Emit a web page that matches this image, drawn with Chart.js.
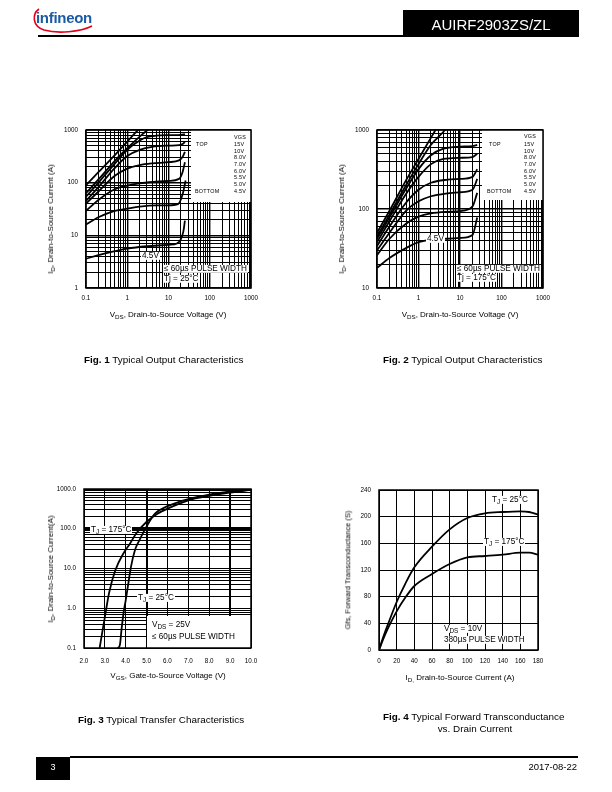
<!DOCTYPE html>
<html><head><meta charset="utf-8">
<script src="https://cdn.jsdelivr.net/npm/chart.js@4/dist/chart.umd.min.js"></script>
<style>
html,body{margin:0;padding:0;background:#fff}
body{width:612px;height:792px;position:relative;overflow:hidden;font-family:"Liberation Sans",Arial,Helvetica,sans-serif;color:#000;-webkit-font-smoothing:antialiased}
.a{position:absolute;white-space:nowrap;line-height:1;will-change:transform}
.lc{transform:translateY(-50%)}
.cc{transform:translate(-50%,-50%)}
.rc{transform:translate(-100%,-50%)}
.rot{transform:translate(-50%,-50%) rotate(-90deg)}
.wb{background:#fff;padding:0 1px}
.s{font-size:78%;position:relative;top:.3em}
.cap{font-size:9.9px}
.ttl{font-size:8px}
.ann{font-size:8.2px}
.lg{font-size:5.4px;letter-spacing:.25px}
canvas{position:absolute}
</style></head><body>

<!-- header -->
<svg class="a" style="left:30px;top:6px" width="64" height="28" viewBox="0 0 64 28">
  <path d="M9 3 C2 8, 2 20, 14 24 C28 28, 50 26, 62 20" fill="none" stroke="#e2001a" stroke-width="1.6"/>
</svg>
<div class="a" style="left:36px;top:10px;font-size:15px;font-weight:bold;color:#1b5aa5;letter-spacing:-.3px">infineon</div>
<div class="a" style="left:38px;top:35px;width:365px;height:1.5px;background:#000"></div>
<div class="a" style="left:403px;top:10px;width:176px;height:27px;background:#000"></div>
<div class="a cc" style="left:491px;top:23.5px;font-size:15px;color:#fff">AUIRF2903ZS/ZL</div>

<!-- footer -->
<div class="a" style="left:36px;top:757px;width:34px;height:23px;background:#000"></div>
<div class="a cc" style="left:53px;top:767px;font-size:9px;color:#fff">3</div>
<div class="a" style="left:70px;top:756px;width:508px;height:1.5px;background:#000"></div>
<div class="a rc" style="left:577px;top:767px;font-size:9.5px">2017-08-22</div>

<!-- canvases -->
<canvas id="c1" width="205" height="184" style="left:56px;top:122px"></canvas>
<canvas id="c2" width="206" height="184" style="left:347px;top:122px"></canvas>
<canvas id="c3" width="213" height="186" style="left:48px;top:481px"></canvas>
<canvas id="c4" width="205" height="188" style="left:343px;top:482px"></canvas>

<!-- Fig 1 texts -->
<div class="a ttl cc" style="left:168px;top:315px">V<span class="s">DS</span>, Drain-to-Source Voltage (V)</div>
<div class="a ttl rot" style="left:51px;top:219px">I<span class="s">D</span>, Drain-to-Source Current (A)</div>
<div class="a lg lc" style="left:234px;top:138px">VGS</div>
<div class="a lg lc" style="left:196px;top:145px">TOP</div>
<div class="a lg lc" style="left:195px;top:191.7px">BOTTOM</div>
<div id="lg1"></div>
<div class="a ann lc wb" style="left:141px;top:256px">4.5V</div>
<div class="a ann lc wb" style="left:163px;top:269px">≤ 60µs PULSE WIDTH</div>
<div class="a ann lc wb" style="left:163px;top:279px">Tj = 25°C</div>
<div class="a cap lc" style="left:84px;top:360px"><b>Fig. 1</b> Typical Output Characteristics</div>

<!-- Fig 2 texts -->
<div class="a ttl cc" style="left:460px;top:315px">V<span class="s">DS</span>, Drain-to-Source Voltage (V)</div>
<div class="a ttl rot" style="left:342px;top:219px">I<span class="s">D</span>, Drain-to-Source Current (A)</div>
<div class="a lg lc" style="left:524px;top:137px">VGS</div>
<div class="a lg lc" style="left:489px;top:145px">TOP</div>
<div class="a lg lc" style="left:487px;top:191.7px">BOTTOM</div>
<div id="lg2"></div>
<div class="a ann lc wb" style="left:426px;top:239px">4.5V</div>
<div class="a ann lc wb" style="left:456px;top:269px">≤ 60µs PULSE WIDTH</div>
<div class="a ann lc wb" style="left:456px;top:278px">Tj = 175°C</div>
<div class="a cap lc" style="left:383px;top:360px"><b>Fig. 2</b> Typical Output Characteristics</div>

<!-- Fig 3 texts -->
<div class="a ttl cc" style="left:168px;top:676px">V<span class="s">GS</span>, Gate-to-Source Voltage (V)</div>
<div class="a ttl rot" style="left:51px;top:569px">I<span class="s">D</span>, Drain-to-Source Current(A)</div>
<div class="a ann lc wb" style="left:90px;top:530px">T<span class="s">J</span> = 175°C</div>
<div class="a ann lc wb" style="left:137px;top:598px">T<span class="s">J</span> = 25°C</div>
<div class="a ann lc" style="left:152px;top:625px">V<span class="s">DS</span> = 25V</div>
<div class="a ann lc" style="left:152px;top:637px">≤ 60µs PULSE WIDTH</div>
<div class="a cap lc" style="left:78px;top:720px"><b>Fig. 3</b> Typical Transfer Characteristics</div>

<!-- Fig 4 texts -->
<div class="a ttl cc" style="left:460px;top:678px">I<span class="s">D,</span> Drain-to-Source Current (A)</div>
<div class="a rot" style="left:348px;top:570px;font-size:7.5px">Gfs, Forward Transconductance (S)</div>
<div class="a ann lc wb" style="left:491px;top:500px">T<span class="s">J</span> = 25°C</div>
<div class="a ann lc wb" style="left:483px;top:542px">T<span class="s">J</span> = 175°C</div>
<div class="a ann lc wb" style="left:443px;top:629px">V<span class="s">DS</span> = 10V</div>
<div class="a ann lc wb" style="left:443px;top:640px">380µs PULSE WIDTH</div>
<div class="a cap lc" style="left:383px;top:717px"><b>Fig. 4</b> Typical Forward Transconductance</div>
<div class="a cap cc" style="left:475px;top:729px">vs. Drain Current</div>

<script>
// ---------------- DATA ----------------
// Legend labels (VGS) for Fig 1 / Fig 2, top to bottom
const vgsLabels = ['15V', '10V', '8.0V', '7.0V', '6.0V', '5.5V', '5.0V', '4.5V'];

// Fig 1: Typical output characteristics, Tj = 25°C  [VDS (V), ID (A)]
const fig1_15V  = [[0.1,90],[0.2,158],[0.5,335],[1,600],[1.5,850],[2,1080]];
const fig1_10V  = [[0.1,63],[0.2,115],[0.5,260],[1,450],[2,750],[3,980],[3.4,1060]];
const fig1_8V   = [[0.1,54],[0.2,100],[0.5,230],[1,420],[2,630],[3,730],[5,780],[10,800],[20,810],[25,830]];
const fig1_7V   = [[0.1,45],[0.2,82],[0.5,190],[1,320],[2,420],[4,480],[10,505],[18,515],[22,540],[25,600]];
const fig1_6V   = [[0.1,40],[0.2,68],[0.5,135],[1,185],[2,215],[4,232],[10,245],[18,265],[22,310],[25,385]];
const fig1_5_5V = [[0.1,29],[0.2,47],[0.5,75],[1,88],[2,97],[5,104],[10,108],[18,118],[22,160],[25,245]];
const fig1_5V   = [[0.1,16],[0.2,22],[0.5,29],[1,32],[2,35],[5,37],[10,37],[17,39],[22,60],[26,110]];
const fig1_4_5V = [[0.1,3.6],[0.2,4.2],[0.5,5],[1,5.6],[3,6.2],[10,6.6],[16,7],[20,8.5],[23,12],[25,19]];

// Fig 2: Typical output characteristics, Tj = 175°C
const fig2_15V  = [[0.1,50],[0.2,95],[0.5,230],[1,430],[2,800],[2.7,1050]];
const fig2_10V  = [[0.1,45],[0.2,85],[0.5,200],[1,370],[2,650],[4,950],[4.7,1050]];
const fig2_8V   = [[0.1,42],[0.2,78],[0.5,180],[1,320],[2,480],[4,580],[10,615],[20,625],[26,650]];
const fig2_7V   = [[0.1,38],[0.2,70],[0.5,155],[1,255],[2,370],[4,430],[10,445],[20,455],[26,500]];
const fig2_6V   = [[0.1,34],[0.2,60],[0.5,120],[1,175],[2,215],[5,235],[10,240],[20,255],[26,320]];
const fig2_5_5V = [[0.1,30],[0.2,50],[0.5,95],[1,125],[2,145],[5,158],[10,163],[20,175],[26,240]];
const fig2_5V   = [[0.1,26],[0.2,42],[0.5,65],[1,80],[2,88],[5,92],[10,94],[20,108],[26,160]];
const fig2_4_5V = [[0.1,18],[0.2,24],[0.5,32],[1,38],[2,41],[5,42],[10,43],[20,47],[26,78]];

// Fig 3: Typical transfer characteristics [VGS (V), ID (A)]
const fig3_175C = [[2.75,0.1],[2.9,0.3],[3.0,0.6],[3.2,2.4],[3.5,9],[3.93,26],[4.2,42],[4.5,76],[5.0,150],[5.5,235],[6.0,320],[7.0,520],[8.0,670],[9.0,810],[10.0,950]];
const fig3_25C  = [[3.62,0.1],[3.72,0.12],[3.8,0.3],[3.9,0.8],[4.0,1.6],[4.1,3.5],[4.25,11],[4.45,30],[4.65,51],[5.0,115],[5.4,240],[6.0,370],[7.0,560],[8.0,720],[9.0,860],[10.0,1000]];

// Fig 4: Typical forward transconductance [ID (A), Gfs (S)]
const fig4_25C  = [[0,0],[5,20],[10,38],[20,72],[30,100],[40,124],[60,155],[80,181],[100,198],[120,205],[140,207],[160,208],[170,207],[180,203]];
const fig4_175C = [[0,0],[5,17],[10,32],[20,58],[30,79],[40,96],[60,114],[80,129],[100,139],[120,141],[140,143],[160,146],[170,146],[180,143]];

// Tick labels
const fig12XTickVals   = [0.1, 1, 10, 100, 1000];
const fig12XTickLabels = ['0.1', '1', '10', '100', '1000'];
const fig1YTickVals    = [1, 10, 100, 1000];
const fig1YTickLabels  = ['1', '10', '100', '1000'];
const fig2YTickVals    = [10, 100, 1000];
const fig2YTickLabels  = ['10', '100', '1000'];
const fig3XTickVals    = [2, 3, 4, 5, 6, 7, 8, 9, 10];
const fig3XTickLabels  = ['2.0', '3.0', '4.0', '5.0', '6.0', '7.0', '8.0', '9.0', '10.0'];
const fig3YTickVals    = [0.1, 1, 10, 100, 1000];
const fig3YTickLabels  = ['0.1', '1.0', '10.0', '100.0', '1000.0'];
const fig4XTickVals    = [0, 20, 40, 60, 80, 100, 120, 140, 160, 180];
const fig4YTickVals    = [0, 40, 80, 120, 160, 200, 240];

// ---------------- RENDER ----------------
Chart.defaults.font.family = '"Liberation Sans", Arial, Helvetica, sans-serif';
Chart.defaults.color = '#000';
Chart.defaults.animation = false;

function legendTexts(id, left, tops) {
  const el = document.getElementById(id);
  vgsLabels.forEach((t, i) => {
    const d = document.createElement('div');
    d.className = 'a lg lc';
    d.style.left = left + 'px';
    d.style.top = tops[i] + 'px';
    d.textContent = t;
    el.appendChild(d);
  });
}
const lgTops = [145, 151.7, 158.3, 165, 171.7, 178.3, 185, 191.7];
legendTexts('lg1', 234, lgTops);
legendTexts('lg2', 524, lgTops);

function logGrid(min, max) {
  const out = [];
  for (let e = Math.floor(Math.log10(min)) - 1; e <= Math.ceil(Math.log10(max)); e++) {
    for (let m = 1; m <= 9; m++) {
      const v = Number((m * Math.pow(10, e)).toPrecision(8));
      if (v >= min * (1 - 1e-9) && v <= max * (1 + 1e-9)) out.push(v);
    }
  }
  return out;
}
function near(a, b) { return Math.abs(a - b) <= 1e-9 * Math.max(1, Math.abs(b)); }
function labelFor(vals, labels) {
  return v => { const i = vals.findIndex(t => near(v, t)); return i >= 0 ? labels[i] : ''; };
}
const isDecade = v => near(Math.log10(v), Math.round(Math.log10(v)));
const fitX = h => s => { s.height = h; s.paddingLeft = 0; s.paddingRight = 0; };
const fitY = w => s => { s.width = w; s.paddingTop = 0; s.paddingBottom = 0; };

function logAxis(min, max, vals, labels, pad, fit, lw) {
  const grid = logGrid(min, max);
  return {
    type: 'logarithmic', min, max,
    afterBuildTicks: s => { s.ticks = grid.map(v => ({ value: v })); },
    ticks: { autoSkip: false, maxRotation: 0, minRotation: 0, padding: pad,
             font: { size: 6.3 }, color: '#000', callback: labelFor(vals, labels) },
    grid: { color: '#000', drawTicks: false, lineWidth: lw || (c => isDecade(c.tick.value) ? 1.4 : 1) },
    border: { display: false },
    afterFit: fit
  };
}
function linAxis(min, max, vals, labels, pad, fit, lw) {
  return {
    type: 'linear', min, max,
    afterBuildTicks: s => { s.ticks = vals.map(v => ({ value: v })); },
    ticks: { autoSkip: false, maxRotation: 0, minRotation: 0, padding: pad,
             font: { size: 6.3 }, color: '#000', callback: labelFor(vals, labels) },
    grid: { color: '#000', drawTicks: false, lineWidth: lw || 1 },
    border: { display: false },
    afterFit: fit
  };
}
const frame = { id: 'frame', afterDatasetsDraw(chart) {
  const { ctx, chartArea: a } = chart;
  ctx.save(); ctx.strokeStyle = '#000'; ctx.lineWidth = 1.5;
  ctx.strokeRect(a.left, a.top, a.right - a.left, a.bottom - a.top); ctx.restore();
} };
function boxes(list, ox, oy) { return { id: 'boxes', beforeDatasetsDraw(chart) {
  const c = chart.ctx; c.save(); c.fillStyle = '#fff';
  list.forEach(b => c.fillRect(b[0] - ox, b[1] - oy, b[2] - b[0], b[3] - b[1]));
  c.restore();
} }; }
function ds(pts) {
  return { data: pts.map(p => ({ x: p[0], y: p[1] })), showLine: true, borderColor: '#000',
           borderWidth: 1.8, pointRadius: 0, fill: false, cubicInterpolationMode: 'monotone' };
}
function make(id, series, xAxis, yAxis, plugins) {
  return new Chart(document.getElementById(id), {
    type: 'scatter',
    data: { datasets: series.map(ds) },
    options: {
      responsive: false, animation: false, devicePixelRatio: 1,
      layout: { padding: { left: 0, top: 8, right: 10, bottom: 0 } },
      plugins: { legend: { display: false }, tooltip: { enabled: false } },
      scales: { x: xAxis, y: yAxis }
    },
    plugins: [frame].concat(plugins || [])
  });
}

// Fig 1
make('c1',
  [fig1_15V, fig1_10V, fig1_8V, fig1_7V, fig1_6V, fig1_5_5V, fig1_5V, fig1_4_5V],
  logAxis(0.1, 1000, fig12XTickVals, fig12XTickLabels, 6.5, fitX(18)),
  logAxis(1, 1000, fig1YTickVals, fig1YTickLabels, 8, fitY(30)),
  [boxes([[191, 130, 251, 202]], 56, 122)]);

// Fig 2
make('c2',
  [fig2_15V, fig2_10V, fig2_8V, fig2_7V, fig2_6V, fig2_5_5V, fig2_5V, fig2_4_5V],
  logAxis(0.1, 1000, fig12XTickVals, fig12XTickLabels, 6.5, fitX(18)),
  logAxis(10, 1000, fig2YTickVals, fig2YTickLabels, 8, fitY(30)),
  [boxes([[482, 130, 543, 200]], 347, 122)]);

// Fig 3
make('c3',
  [fig3_175C, fig3_25C],
  linAxis(2, 10, fig3XTickVals, fig3XTickLabels, 9, fitX(19),
          c => (near(c.tick.value, 5) || near(c.tick.value, 9)) ? 2 : 1),
  logAxis(0.1, 1000, fig3YTickVals, fig3YTickLabels, 8, fitY(36),
          c => near(c.tick.value, 100) ? 3 : 1),
  [boxes([[147, 616, 251, 648]], 48, 481)]);

// Fig 4
make('c4',
  [fig4_25C, fig4_175C],
  linAxis(0, 180, fig4XTickVals, fig4XTickVals.map(String), 7.5, fitX(20)),
  linAxis(0, 240, fig4YTickVals, fig4YTickVals.map(String), 8, fitY(36)));
</script>
</body></html>
